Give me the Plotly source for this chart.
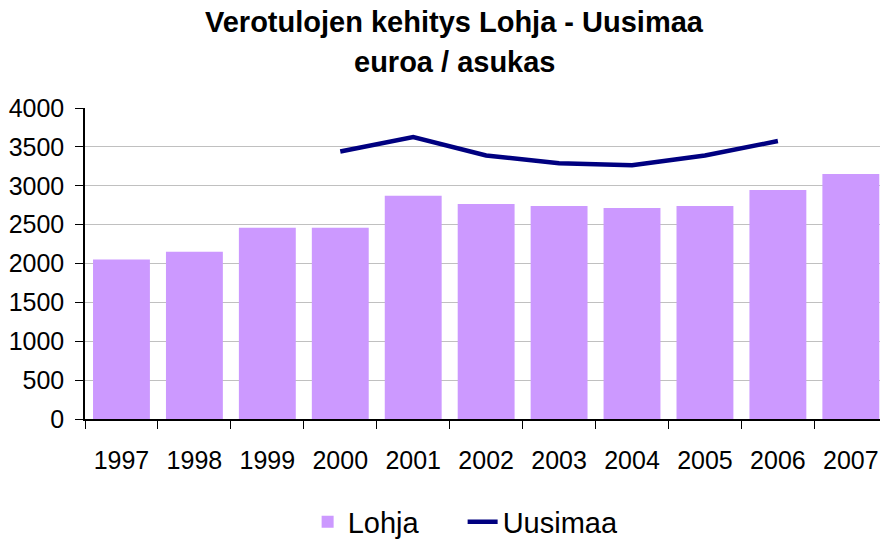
import plotly.graph_objects as go

years = ["1997", "1998", "1999", "2000", "2001", "2002", "2003", "2004", "2005", "2006", "2007"]
lohja = [2050, 2150, 2460, 2460, 2870, 2765, 2740, 2715, 2740, 2945, 3150]
uusimaa_years = ["2000", "2001", "2002", "2003", "2004", "2005", "2006"]
uusimaa = [3440, 3625, 3390, 3290, 3265, 3390, 3575]
y_ticks = [0, 500, 1000, 1500, 2000, 2500, 3000, 3500, 4000]

FONT = "Liberation Sans, Arial, sans-serif"

fig = go.Figure()
fig.add_trace(go.Bar(x=years, y=lohja, name="Lohja", marker_color="#CC99FF",
                     marker_line_width=0, width=0.78))
fig.add_trace(go.Scatter(x=uusimaa_years, y=uusimaa, name="Uusimaa", mode="lines",
                         line=dict(color="#000080", width=4.5)))

top, bottom, left = 108, 122, 85
fig.update_layout(
    width=880, height=541,
    margin=dict(l=left, r=0, t=top, b=bottom, autoexpand=False),
    plot_bgcolor="white", paper_bgcolor="white",
    font=dict(family=FONT, color="black"),
    showlegend=True,
    legend=dict(orientation="h", x=0.475, xanchor="center", y=-0.331, yanchor="middle",
                font=dict(size=29, family=FONT), entrywidth=110, entrywidthmode="pixels"),
    xaxis=dict(type="category", range=[-0.5, 10.4], showline=True, linecolor="black",
               linewidth=1.5, ticks="outside", tickson="boundaries", ticklen=8,
               tickcolor="black", tickfont=dict(size=25, family=FONT),
               ticklabelstandoff=18, showgrid=False, automargin=False),
    yaxis=dict(range=[0, 4000], tickvals=y_ticks, showline=True, linecolor="black",
               linewidth=1.5, ticks="outside", ticklen=8, tickcolor="black",
               tickfont=dict(size=25, family=FONT), ticklabelstandoff=6,
               showgrid=True, gridcolor="#C0C0C0", gridwidth=1.2, zeroline=False,
               automargin=False),
    annotations=[
        dict(text="<b>Verotulojen kehitys Lohja - Uusimaa</b>", xref="paper", yref="paper",
             x=0.465, y=1.2765, xanchor="center", yanchor="middle", showarrow=False,
             font=dict(size=29, family=FONT)),
        dict(text="<b>euroa / asukas</b>", xref="paper", yref="paper",
             x=0.465, y=1.148, xanchor="center", yanchor="middle", showarrow=False,
             font=dict(size=29, family=FONT)),
    ],
)

fig.write_html("out.html", post_script="document.body.style.margin='0px';",
               config={"displayModeBar": False})
